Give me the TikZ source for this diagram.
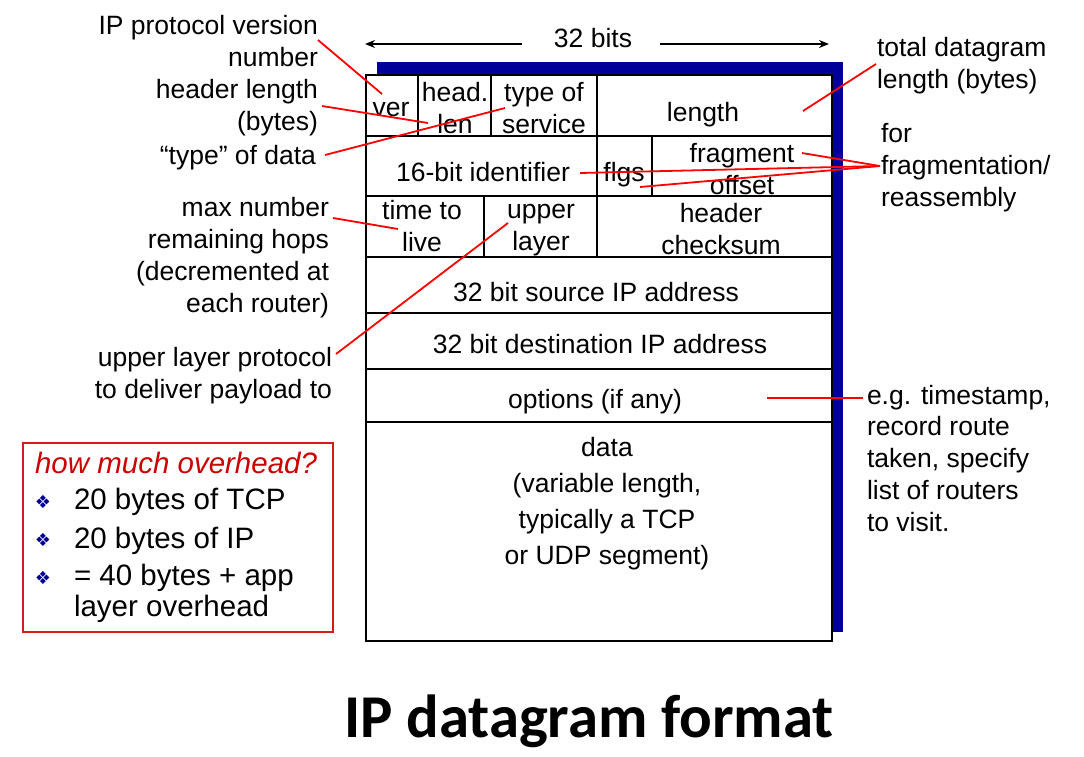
\documentclass[tikz,border=0pt]{standalone}
\usepackage{fontspec}
\setmainfont{Liberation Sans}
\newfontfamily\titlefont{Carlito}
\newfontfamily\dingfont{DejaVu Sans}
\usetikzlibrary{arrows.meta}
\definecolor{shadowblue}{RGB}{0,0,153}
\definecolor{callred}{RGB}{255,0,0}
\definecolor{boxred}{RGB}{215,25,25}
\definecolor{itred}{RGB}{204,0,0}
\definecolor{bulletblue}{RGB}{0,0,153}
\begin{document}
\begin{tikzpicture}[x=1pt,y=-1pt,
  txt/.style={font=\fontsize{26.5}{31.7}\selectfont, inner sep=0pt, outer sep=0pt},
  lbl/.style={txt, align=right, anchor=base east},
  rlbl/.style={txt, align=left, anchor=base west},
  cell/.style={txt, align=center, anchor=base},
  call/.style={draw=callred, line width=1.8pt},
  gridline/.style={line width=1.6pt},
  ovr/.style={font=\fontsize{29.5}{31}\selectfont, inner sep=0pt, outer sep=0pt, anchor=base west, align=left},
  bul/.style={font=\dingfont\fontsize{18}{18}\selectfont, text=bulletblue, inner sep=0pt},
  bitarrow/.style={-{Stealth[length=10pt,width=8pt]}, line width=1.8pt},
]
\useasboundingbox (0,0) rectangle (1084,756);

% datagram box with blue shadow
\fill[shadowblue] (377,62) rectangle (843,632);
\filldraw[fill=white, draw=black, line width=2.4pt] (366,75) rectangle (832,641);
\foreach \yy in {136,196,257,313,369,422}
  \draw[gridline] (366,\yy) -- (832,\yy);
\foreach \xx in {418,491,597}
  \draw[gridline] (\xx,75) -- (\xx,136);
\foreach \xx in {597,652}
  \draw[gridline] (\xx,136) -- (\xx,196);
\foreach \xx in {484,597}
  \draw[gridline] (\xx,196) -- (\xx,257);

% 32 bits
\node[cell] (bits) at (593,47) {32 bits};
\coordinate (la) at (522,44);
\coordinate (lb) at (365,44);
\coordinate (ra) at (660,44);
\coordinate (rb) at (829,44);
\draw[bitarrow] (la) -- (lb);
\draw[bitarrow] (ra) -- (rb);

% cell texts (base anchor = baseline of last line)
\node[cell] (ver) at (391,116) {ver};
\node[cell] (hlen) at (455,133) {head.\\len};
\node[cell] (tos) at (544,133) {type of\\service};
\node[cell] (len) at (703,121) {length};
\node[cell] (ident) at (483,181) {16-bit identifier};
\node[cell] (flgs) at (624,181) {flgs};
\node[cell] (frag) at (742,194) {fragment\\offset};
\node[cell] (ttl) at (422,251) {time to\\live};
\node[cell] (proto) at (541,250) {upper\\layer};
\node[cell] (cksum) at (721,254) {header\\checksum};
\node[cell] (src) at (596,301) {32 bit source IP address};
\node[cell] (dst) at (600,353) {32 bit destination IP address};
\node[cell] (opt) at (595,408) {options (if any)};
\node[cell, font=\fontsize{26.5}{35.7}\selectfont] (data) at (607,564) {data\\(variable length,\\typically a TCP\\or UDP segment)};

% left labels
\node[lbl] (lver) at (318,66) {IP protocol version\\number};
\node[lbl] (lhlen) at (318,130) {header length\\(bytes)};
\node[lbl] (ltos) at (316,164) {“type” of data};
\node[lbl] (lttl) at (329,312) {max number\\remaining hops\\(decremented at\hspace*{8pt}\\each router)};
\node[lbl] (lproto) at (332,398) {upper layer protocol\\to deliver payload to};

% right labels
\node[rlbl] (rlen) at (877,88) {total datagram\\length (bytes)};
\node[rlbl] (rfrag) at (881,206) {for\\fragmentation/\\reassembly};
\node[rlbl] (ropt) at (867,531) {e.g. timestamp,\\record route\\taken, specify\\list of routers\\to visit.};

% overhead box
\draw[boxred, line width=1.2pt] (23,443) rectangle (333,632);
\node[ovr, font={\fontsize{29.5}{31}\selectfont\itshape}, text=itred] (ohq) at (35,473) {how much overhead?};
\node[bul] (b1) at (43,502) {❖};
\node[bul] (b2) at (43,540) {❖};
\node[bul] (b3) at (43,578) {❖};
\node[ovr] (o1) at (74,509) {20 bytes of TCP};
\node[ovr] (o2) at (74,548) {20 bytes of IP};
\node[ovr] (o3) at (74,616) {= 40 bytes + app\\layer overhead};

% title
\node[font={\titlefont\bfseries\fontsize{60.8}{61}\selectfont}, anchor=base, inner sep=0pt] (title) at (589,737) {IP datagram format};

% callout lines
\coordinate (sver) at (318,40);   \coordinate (pver) at (382,94);
\coordinate (shlen) at (322,106); \coordinate (phlen) at (428,123);
\coordinate (stos) at (325,155);  \coordinate (ptos) at (505,108);
\coordinate (plen) at (803,111);  \coordinate (slen) at (876,64);
\coordinate (sfrag) at (880,166);
\coordinate (pid) at (580,173);
\coordinate (pflg) at (640,187);
\coordinate (pfo) at (802,153);
\coordinate (sttl) at (333,218);  \coordinate (pttl) at (398,229);
\coordinate (sproto) at (336,354); \coordinate (pproto) at (508,223);
\coordinate (popt) at (767,398);  \coordinate (sopt) at (863,398);
\draw[call] (sver) -- (pver);
\draw[call] (shlen) -- (phlen);
\draw[call] (stos) -- (ptos);
\draw[call] (plen) -- (slen);
\draw[call] (pid) -- (sfrag);
\draw[call] (pflg) -- (sfrag);
\draw[call] (pfo) -- (sfrag);
\draw[call] (sttl) -- (pttl);
\draw[call] (sproto) -- (pproto);
\draw[call] (popt) -- (sopt);
\end{tikzpicture}
\end{document}
